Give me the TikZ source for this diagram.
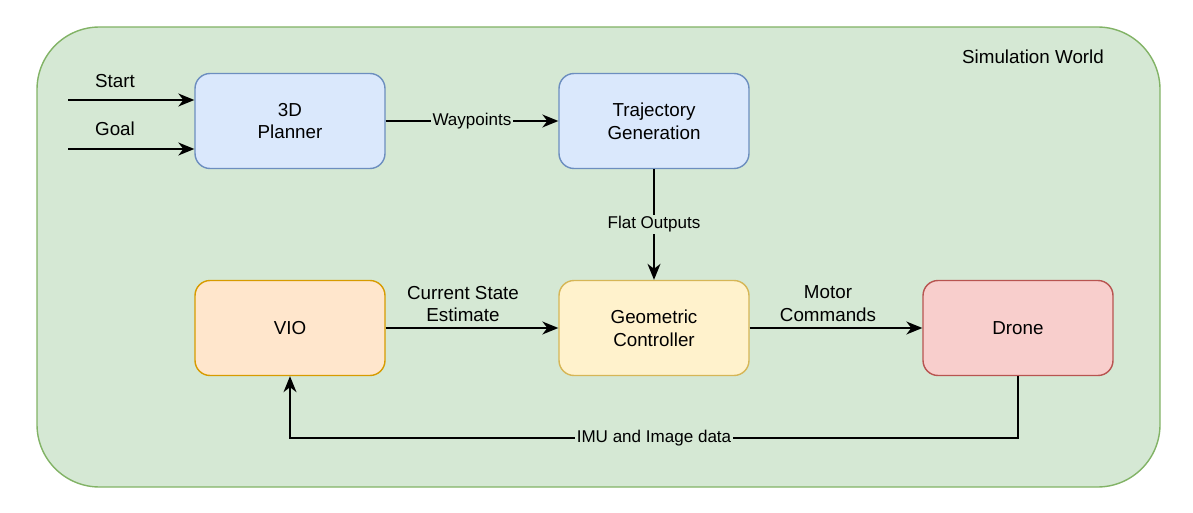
\documentclass[tikz,border=0pt]{standalone}
\usepackage{fontspec}
\setmainfont{Liberation Sans}
\usepackage{xcolor}
\usetikzlibrary{arrows.meta}

\definecolor{worldfill}{HTML}{D5E8D4}
\definecolor{worlddraw}{HTML}{82B366}
\definecolor{bluefill}{HTML}{DAE8FC}
\definecolor{bluedraw}{HTML}{6C8EBF}
\definecolor{orangefill}{HTML}{FFE6CC}
\definecolor{orangedraw}{HTML}{D79B00}
\definecolor{yellowfill}{HTML}{FFF2CC}
\definecolor{yellowdraw}{HTML}{D6B656}
\definecolor{redfill}{HTML}{F8CECC}
\definecolor{reddraw}{HTML}{B85450}

\tikzset{
    block/.style={draw, rounded corners=0.3cm, line width=0.8pt,
        minimum width=3.8cm, minimum height=1.9cm, align=center,
        font=\fontsize{10.7}{13}\selectfont},
    flow/.style={line width=0.8pt, -{Stealth[length=3.2mm, width=2.6mm, inset=1mm]}},
    plain/.style={font=\fontsize{10.7}{13}\selectfont, align=center},
    edgelabel/.style={font=\fontsize{9.7}{12}\selectfont, fill=worldfill, inner sep=1pt}
}

\begin{document}
\begin{tikzpicture}[x=0.02cm, y=-0.02cm]
    \useasboundingbox (0,0) rectangle (1193,513);
    % simulation world
    \fill[worldfill, draw=worlddraw, line width=0.8pt, rounded corners=1.25cm]
        (37,27) rectangle (1160,487);
    \node[plain] (world) at (1033,57) {Simulation World};
    % blocks
    \node[block, fill=bluefill, draw=bluedraw] (planner) at (290,121) {3D\\Planner};
    \node[block, fill=bluefill, draw=bluedraw] (traj) at (654,121) {Trajectory\\Generation};
    \node[block, fill=orangefill, draw=orangedraw] (vio) at (290,328) {VIO};
    \node[block, fill=yellowfill, draw=yellowdraw] (ctrl) at (654,328) {Geometric\\Controller};
    \node[block, fill=redfill, draw=reddraw] (drone) at (1018,328) {Drone};
    % inputs
    \coordinate (S) at (68,100) ;
    \coordinate (G) at (68,149) ;
    \coordinate (F) at (290,438) ;
    \coordinate (D) at (1018,438) ;
    \draw[flow] (S) -- (S -| planner.west);
    \draw[flow] (G) -- (G -| planner.west);
    \node[plain] (start) at (115,81) {Start};
    \node[plain] (goal) at (115,129) {Goal};
    % connections
    \draw[flow] (planner) -- node[edgelabel] {Waypoints} (traj);
    \draw[flow] (traj) -- node[edgelabel] {Flat Outputs} (ctrl);
    \draw[flow] (vio) -- (ctrl);
    \node[plain] (estlabel) at (463,304) {Current State\\Estimate};
    \draw[flow] (ctrl) -- (drone);
    \node[plain] (motlabel) at (828,304) {Motor\\Commands};
    \draw[flow] (drone.south) -- (D) -- node[edgelabel, pos=0.5] {IMU and Image data} (F) -- (vio.south);
\end{tikzpicture}
\end{document}
